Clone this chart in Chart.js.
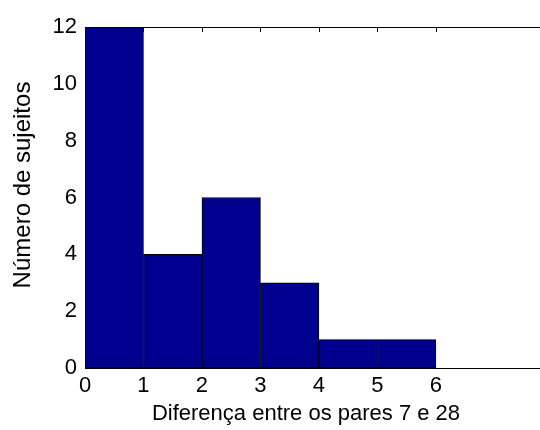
<!DOCTYPE html>
<html>
<head>
<meta charset="utf-8">
<script src="https://cdn.jsdelivr.net/npm/chart.js@4.4.1/dist/chart.umd.min.js"></script>
<style>
  body { margin: 0; background: #fff; }
  #wrap { width: 540px; height: 430px; }
</style>
</head>
<body>
<div id="wrap"><canvas id="myChart" width="540" height="430"></canvas></div>
<script>
// histogram bins (centres) and counts
var binCentres = [0.5, 1.5, 2.5, 3.5, 4.5, 5.5, 6.5];
var counts = [12, 4, 6, 3, 1, 1, 0];
var xTicks = [0, 1, 2, 3, 4, 5, 6];
var yTicks = [0, 2, 4, 6, 8, 10, 12];

var xLabel = 'Diferença entre os pares 7 e 28';
var yLabel = 'Número de sujeitos';

var xMax = 7.78;
var fam = 'Liberation Sans, Arial';

// top border + inward ticks, and the axis labels (placed like the original)
const boxPlugin = {
    id: 'box',
    afterDatasetsDraw(chart) {
        const ctx = chart.ctx;
        const a = chart.chartArea;
        const xs = chart.scales.x;
        ctx.save();
        ctx.strokeStyle = '#000';
        ctx.lineWidth = 1;
        ctx.beginPath();
        ctx.moveTo(a.left, a.top + 0.5);
        ctx.lineTo(a.right, a.top + 0.5);
        xTicks.forEach(function(t) {
            var px = Math.round(xs.getPixelForValue(t)) + 0.5;
            ctx.moveTo(px, a.top);
            ctx.lineTo(px, a.top + 5);
        });
        ctx.stroke();

        ctx.fillStyle = '#000';
        ctx.textAlign = 'center';
        ctx.textBaseline = 'middle';
        ctx.font = '22px ' + fam;
        ctx.fillText(xLabel, 306, 414);
        ctx.font = '24px ' + fam;
        ctx.translate(23, 185);
        ctx.rotate(-Math.PI / 2);
        ctx.fillText(yLabel, 0, 0);
        ctx.restore();
    }
};

const config = {
    type: 'bar',
    data: {
        datasets: [{
            data: binCentres.map(function(c, i) { return { x: c, y: counts[i] }; }),
            backgroundColor: '#00008F',
            borderColor: '#000',
            borderWidth: 1,
            borderSkipped: false,
            barPercentage: 1,
            categoryPercentage: 1
        }]
    },
    options: {
        responsive: false,
        animation: false,
        events: [],
        layout: { padding: { top: 27, right: 0, left: 0, bottom: 0 } },
        plugins: {
            legend: { display: false },
            tooltip: { enabled: false }
        },
        scales: {
            x: {
                type: 'linear',
                min: 0,
                max: xMax,
                offset: false,
                afterBuildTicks: function(s) { s.ticks = xTicks.map(function(v) { return { value: v }; }); },
                afterFit: function(s) { s.height = 62; },
                grid: { display: false, drawTicks: false },
                border: { display: true, color: '#000', width: 1 },
                ticks: {
                    color: '#000',
                    padding: 5,
                    maxRotation: 0,
                    autoSkip: false,
                    font: { family: fam, size: 22 }
                }
            },
            y: {
                min: 0,
                max: 12,
                afterBuildTicks: function(s) { s.ticks = yTicks.map(function(v) { return { value: v }; }); },
                afterFit: function(s) { s.width = 85; },
                grid: { display: false, drawTicks: false },
                border: { display: true, color: '#000', width: 1 },
                ticks: {
                    color: '#000',
                    padding: 8,
                    font: { family: fam, size: 22 }
                }
            }
        }
    },
    plugins: [boxPlugin]
};
new Chart(document.getElementById("myChart"), config);
</script>
</body>
</html>
